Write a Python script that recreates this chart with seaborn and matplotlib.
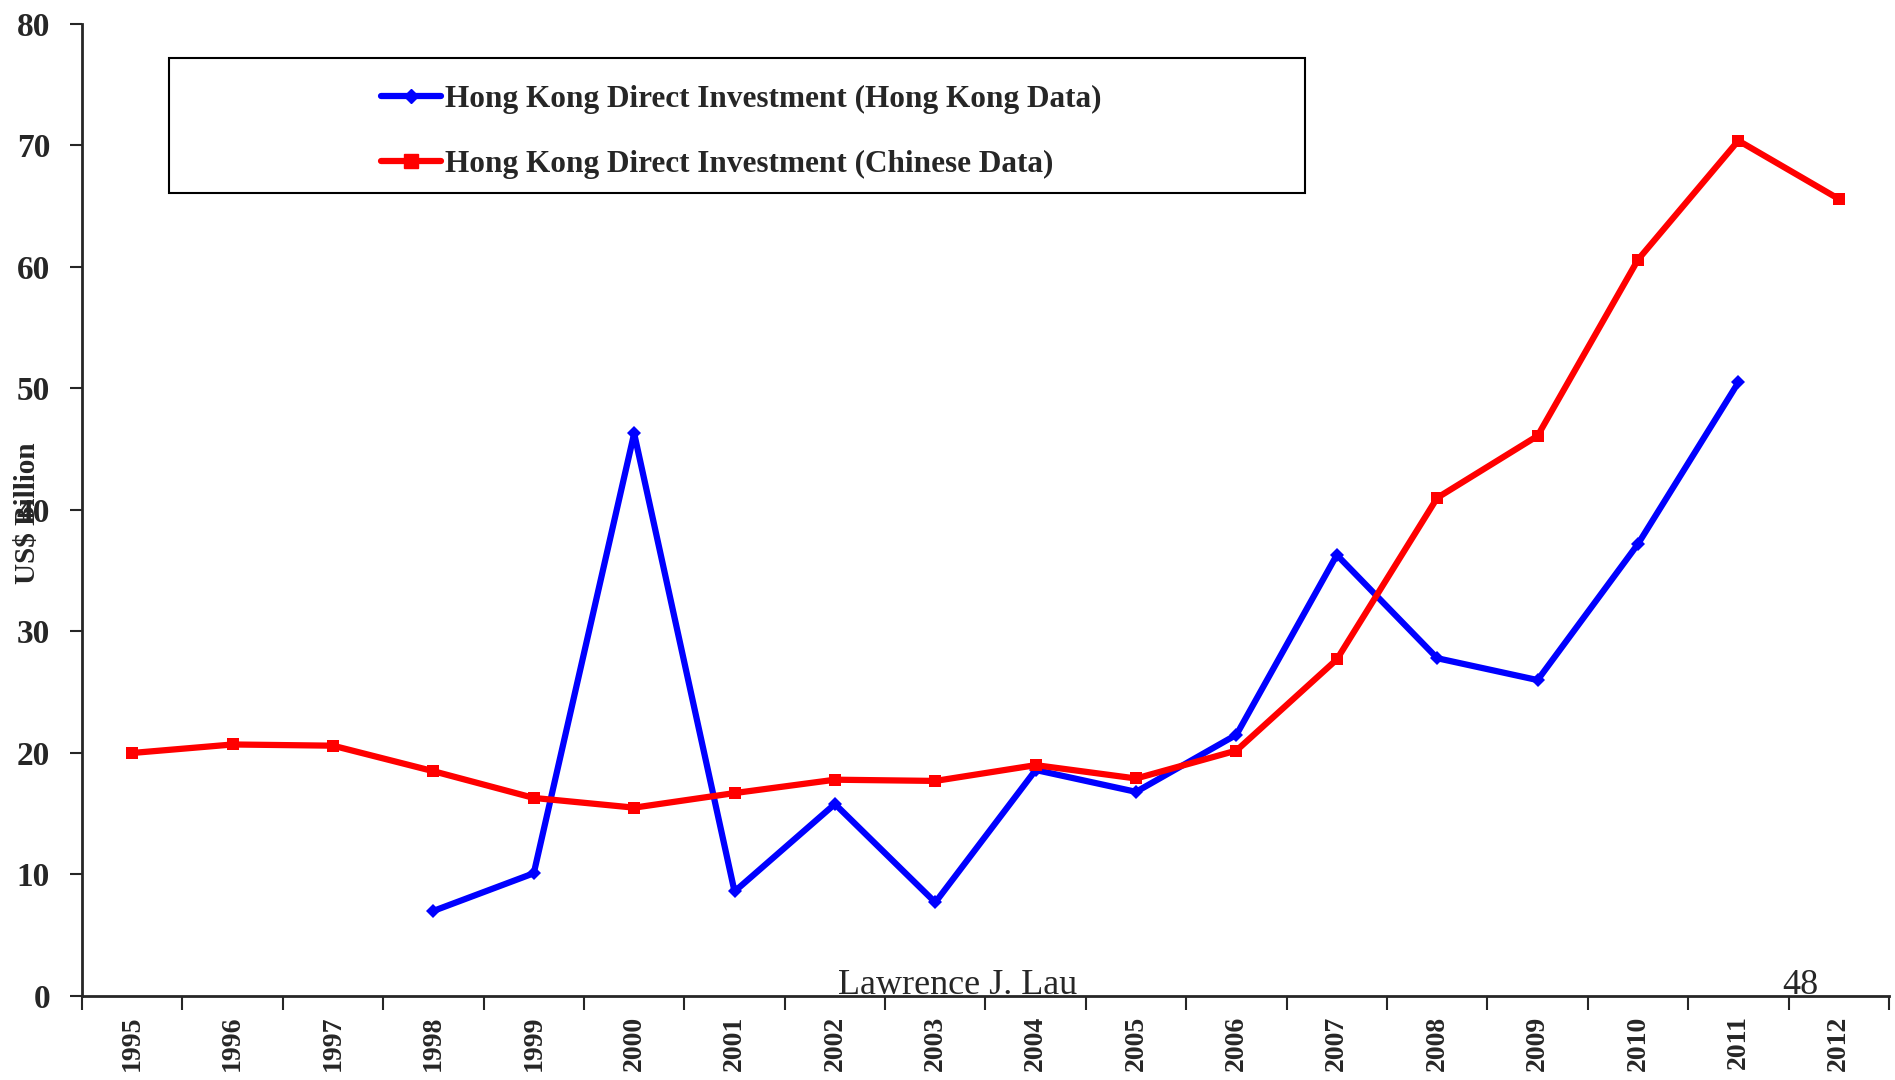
import numpy as np, pandas as pd
import matplotlib; matplotlib.use("Agg")
import matplotlib.pyplot as plt
import seaborn as sns
from matplotlib.patches import Rectangle
from matplotlib.ticker import FixedLocator, NullFormatter

years = [str(y) for y in range(1995, 2013)]
hk_years = [str(y) for y in range(1998, 2012)]
hk_data = [7.0, 10.1, 46.3, 8.6, 15.8, 7.7, 18.6, 16.8, 21.5, 36.3, 27.8, 26.0, 37.2, 50.5]
cn_data = [20.0, 20.7, 20.6, 18.5, 16.3, 15.5, 16.7, 17.8, 17.7, 19.0, 17.9, 20.2,
           27.7, 41.0, 46.1, 60.6, 70.4, 65.6]
LBL_HK = "Hong Kong Direct Investment (Hong Kong Data)"
LBL_CN = "Hong Kong Direct Investment (Chinese Data)"

sns.set_style("white")
plt.rcParams["font.family"] = ["Liberation Serif", "DejaVu Serif"]

pos = {y: i for i, y in enumerate(years)}
df = pd.concat([
    pd.DataFrame({"x": [pos[y] for y in hk_years], "v": hk_data, "s": LBL_HK}),
    pd.DataFrame({"x": [pos[y] for y in years], "v": cn_data, "s": LBL_CN}),
])

fig = plt.figure(figsize=(18.95, 10.8), dpi=100)
ax = fig.add_axes([0.0433, 0.0778, 0.9535, 0.9])
sns.lineplot(data=df, x="x", y="v", hue="s", style="s",
             palette={LBL_HK: "#0000FF", LBL_CN: "#FF0000"},
             markers={LBL_HK: "D", LBL_CN: "s"}, dashes=False,
             markersize=9, linewidth=4.5, markeredgewidth=0, ax=ax, legend=False)
# smaller diamonds for HK
for ln in ax.lines:
    if ln.get_color() in ("#0000FF", (0.0, 0.0, 1.0)):
        ln.set_markersize(7)

ax.set_xlim(-0.5, len(years) - 0.5)
ax.set_ylim(0, 80)
ax.set_yticks(range(0, 81, 10))
ax.set_yticklabels([str(v) for v in range(0, 81, 10)], fontsize=24, fontweight="bold")
ax.xaxis.set_major_locator(FixedLocator(np.arange(-0.5, len(years), 1)))
ax.xaxis.set_major_formatter(NullFormatter())
ax.set_xticks(range(len(years)), minor=True)
ax.set_xticklabels(years, minor=True, rotation=90, fontsize=20, fontweight="bold")
ax.tick_params(axis="x", which="major", direction="out", length=10, width=1.5)
ax.tick_params(axis="x", which="minor", length=0, pad=14)
ax.tick_params(axis="y", direction="out", length=9, width=1.5, pad=14)
ax.tick_params(bottom=True, left=True)
for s in ["top", "right"]:
    ax.spines[s].set_visible(False)
for s in ["left", "bottom"]:
    ax.spines[s].set_linewidth(2)
ax.set_xlabel("")
ax.set_ylabel("")
fig.text(0.0145, 0.525, "US$ Billion", rotation=90, fontsize=21, fontweight="bold",
         ha="center", va="center")

# legend box
ax.add_patch(Rectangle((0.048, 0.826), 0.629, 0.139, transform=ax.transAxes,
                       fill=False, edgecolor="black", linewidth=1.5, zorder=5))
h_hk = plt.Line2D([], [], color="#0000FF", lw=4.5, marker="D", markersize=7)
h_cn = plt.Line2D([], [], color="#FF0000", lw=4.5, marker="s", markersize=10)
leg = ax.legend([h_hk, h_cn], [LBL_HK, LBL_CN], loc="upper left",
                bbox_to_anchor=(0.150, 0.966), frameon=False, handlelength=1.9,
                handletextpad=0.15, labelspacing=1.15,
                prop={"family": "Liberation Serif", "weight": "bold", "size": 22.5})

fig.text(0.5055, 0.072, "Lawrence J. Lau", fontsize=26, ha="center", va="bottom")
fig.text(0.950, 0.072, "48", fontsize=26, ha="center", va="bottom")

fig.savefig("out.png", dpi=100)
